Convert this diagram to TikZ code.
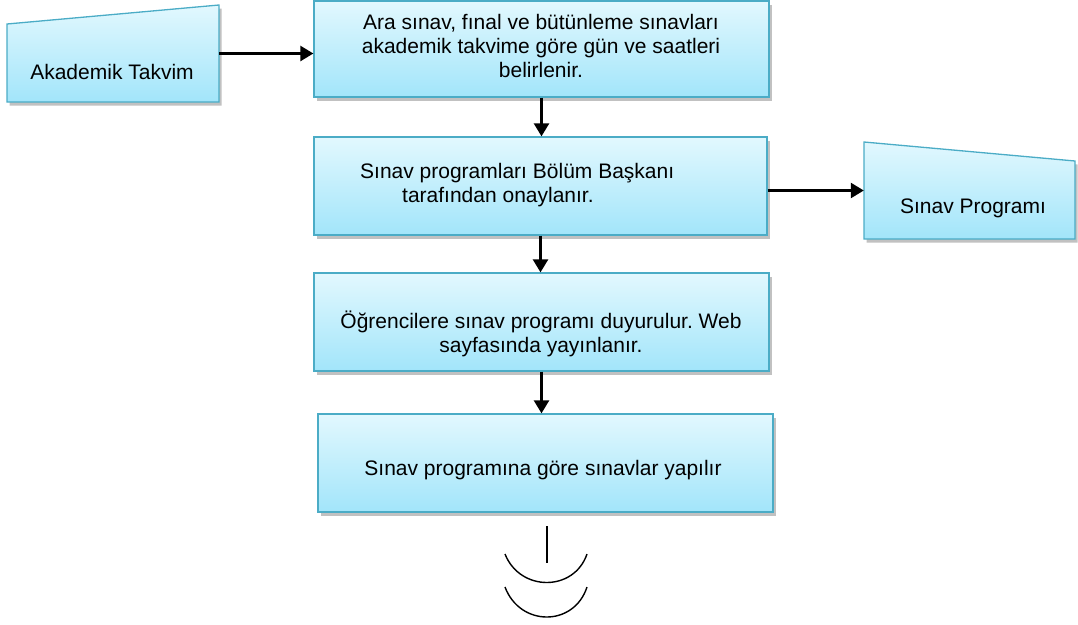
\documentclass[tikz,border=0pt]{standalone}
\usepackage{fontspec}
\setmainfont{Liberation Sans}
\frenchspacing
\usetikzlibrary{shadows,arrows.meta}
\definecolor{boxtop}{HTML}{E2F8FE}
\definecolor{boxbot}{HTML}{A2E5FA}
\definecolor{boxline}{HTML}{4BACC6}
\tikzset{
  boxshadow/.style={drop shadow={shadow xshift=2.5pt, shadow yshift=-3.5pt, opacity=0.35, fill=black!70}},
  flowbox/.style={rectangle, draw=boxline, line width=1.3pt, top color=boxtop, bottom color=boxbot,
    boxshadow, minimum width=455pt, minimum height=98pt, inner sep=0pt},
  manualshape/.style={draw=boxline, line width=1.3pt, top color=boxtop, bottom color=boxbot, boxshadow},
  frame/.style={rectangle, draw=none, inner sep=0pt},
  txt/.style={inner sep=0pt, font=\fontsize{21}{24}\selectfont, align=center},
  flowarrow/.style={-{Triangle[length=13pt,width=15pt]}, line width=2.5pt},
  endmark/.style={line width=1.4pt, black}
}
\begin{document}
\begin{tikzpicture}[x=1pt,y=-1pt]
\useasboundingbox (0,0) rectangle (1078,624);

% manual-input shapes
\path[manualshape] (7,24) -- (219,5) -- (219,102) -- (7,102) -- cycle;
\node[frame, minimum width=212pt, minimum height=97pt] (akt) at (113,53.5) {};
\node[txt] (aktt) at (112,72) {Akademik Takvim};

\path[manualshape] (864,142) -- (1075,161) -- (1075,239) -- (864,239) -- cycle;
\node[frame, minimum width=211pt, minimum height=97pt] (sp) at (969.5,190.5) {};
\node[txt] (spt) at (973,208) {Sınav Programı};

% process boxes
\node[flowbox, minimum height=96pt] (b2) at (541.5,49) {};
\node[txt] (b2t) at (541,45.5) {Ara sınav, fınal ve bütünleme sınavları\\akademik takvime göre gün ve saatleri\\belirlenir.};

\node[flowbox, minimum width=453pt] (b3) at (540.5,186) {};
\node[txt, anchor=west, align=left] (b3t) at (360,185.5) {Sınav programları Bölüm Başkanı\\\hspace*{42pt}tarafından onaylanır.};

\node[flowbox] (b4) at (541.5,322) {};
\node[txt] (b4t) at (541,334) {Öğrencilere sınav programı duyurulur. Web\\sayfasında yayınlanır.};

\node[flowbox] (b5) at (545.5,463) {};
\node[txt] (b5t) at (543,470) {Sınav programına göre sınavlar yapılır};

% connectors
\draw[flowarrow] (akt.east) -- (akt.east -| b2.west);
\draw[flowarrow] (b2.south) -- (b2.south |- b3.north);
\draw[flowarrow] (sp.west -| b3.east) -- (sp.west);
\draw[flowarrow] (b3.south) -- (b3.south |- b4.north);
\draw[flowarrow] (b4.south) -- (b4.south |- b5.north);

% off-page mark
\coordinate (m1) at (547,526);
\coordinate (m2) at (547,563);
\draw[endmark] (m1) -- (m2);
\draw[endmark] (505,554) .. controls (520,592) and (574,592) .. (587,554);
\draw[endmark] (505,587) .. controls (520,627) and (574,627) .. (587,587);
\end{tikzpicture}
\end{document}
